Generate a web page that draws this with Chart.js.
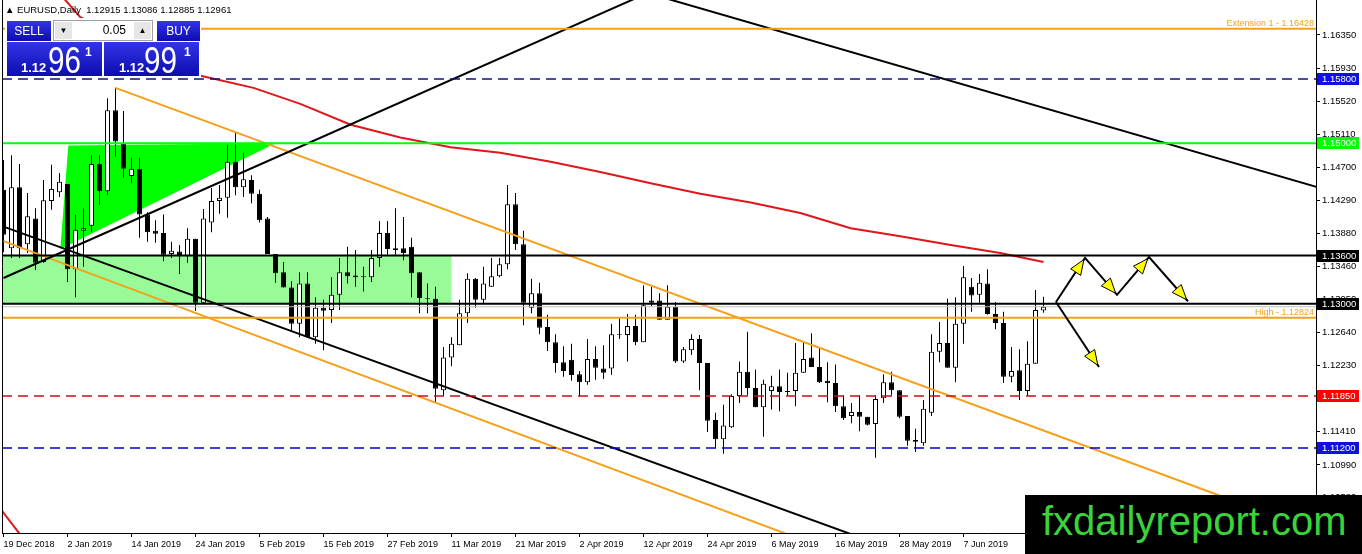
<!DOCTYPE html>
<html>
<head>
<meta charset="utf-8">
<script src="https://cdn.jsdelivr.net/npm/chart.js@4.4.1/dist/chart.umd.min.js"></script>
<style>
body { margin: 0; background: #fff; overflow: hidden; }
#wrap { position: relative; width: 1362px; height: 554px; font-family: 'Liberation Sans', Arial, sans-serif; }
canvas { position: absolute; left: 0; top: 0; }
#hdr { position: absolute; left: 5px; top: 4px; font-size: 9.5px; line-height: 12px; color: #000; white-space: pre; }
#panel { position: absolute; left: 5px; top: 18px; width: 196px; height: 59px; background: #fff; }
.blue { position: absolute; background: linear-gradient(#3434e8, #0c0cb0); color: #fff; overflow: hidden; }
.hd { top: 3px; height: 20px; font-size: 12px; line-height: 20px; text-align: center; }
.big { top: 24px; width: 95px; height: 34px; }
.big span { position: absolute; white-space: nowrap; }
.sm { font-size: 13px; font-weight: bold; line-height: 13px; top: 19px; }
.lg { font-size: 37px; line-height: 37px; top: 0px; transform: scaleX(0.8); transform-origin: left; }
.sup { font-size: 12px; font-weight: bold; line-height: 12px; top: 4px; }
#spin { position: absolute; left: 48px; top: 2px; width: 98px; height: 19px; border: 1px solid #a0a0a0; background: #fff; }
.sb { position: absolute; top: 1px; width: 17px; height: 17px; background: #e6e6e6; font-size: 8px; line-height: 17px; text-align: center; color: #000; }
#lot { position: absolute; right: 26px; top: 0; font-size: 12px; line-height: 19px; color: #000; }
#wm { position: absolute; left: 1025px; top: 495px; width: 337px; height: 59px; background: #000; }
#wm span { position: absolute; left: 17px; top: 6px; font-size: 40px; line-height: 40px; color: #3ad43a; white-space: nowrap; }
</style>
</head>
<body>
<div id="wrap">
  <canvas id="chart" width="1362" height="554"></canvas>
  <div id="hdr"></div>
  <div id="panel">
    <div class="blue hd" style="left:2px;width:44px;">SELL</div>
    <div id="spin">
      <div class="sb" style="left:1px;">&#9660;</div>
      <div id="lot">0.05</div>
      <div class="sb" style="right:1px;">&#9650;</div>
    </div>
    <div class="blue hd" style="left:152px;width:43px;">BUY</div>
    <div class="blue big" style="left:2px;"><span class="sm" style="left:14px;">1.12</span><span class="lg" style="left:41px;">96</span><span class="sup" style="left:78px;">1</span></div>
    <div class="blue big" style="left:99px;"><span class="sm" style="left:15px;">1.12</span><span class="lg" style="left:40px;">99</span><span class="sup" style="left:80px;">1</span></div>
  </div>
  <div id="wm"><span>fxdailyreport.com</span></div>
</div>
<script>
// Daily EURUSD candles, one per bar starting 19 Dec 2018
const opens = [
  1.1442,1.1369,1.1445,1.1374,1.1406,1.1352,1.1428,1.1439,1.1449,1.1343,
  1.1391,1.1397,1.1474,1.1440,1.1541,1.1500,1.1459,1.1468,1.1411,1.1391,
  1.1388,1.1362,1.1365,1.1359,1.1381,1.1301,1.1401,1.1428,1.1432,1.1477,
  1.1445,1.1454,1.1437,1.1406,1.1362,1.1339,1.1320,1.1275,1.1325,1.1258,
  1.1295,1.1292,1.1311,1.1339,1.1335,1.1334,1.1333,1.1357,1.1388,1.1369,
  1.1369,1.1371,1.1339,1.1307,1.1306,1.1192,1.1233,1.1248,1.1288,1.1331,
  1.1305,1.1321,1.1334,1.1349,1.1424,1.1374,1.1295,1.1313,1.1271,1.1252,
  1.1227,1.1230,1.1212,1.1202,1.1231,1.1219,1.1219,1.1262,1.1261,1.1272,
  1.1252,1.1304,1.1304,1.1280,1.1296,1.1228,1.1242,1.1256,1.1226,1.1155,
  1.1131,1.1146,1.1185,1.1215,1.1195,1.1171,1.1191,1.1197,1.1191,1.1191,
  1.1214,1.1233,1.1221,1.1204,1.1201,1.1172,1.1160,1.1165,1.1159,1.1150,
  1.1182,1.1202,1.1192,1.1160,1.1130,1.1126,1.1164,1.1240,1.1251,1.1220,
  1.1275,1.1321,1.1311,1.1325,1.1287,1.1276,1.1209,1.1217,1.1191,1.1225,
  1.12915
];
const highs = [
  1.1479,1.1485,1.1474,1.1438,1.1419,1.1454,1.1473,1.1463,1.1449,1.1411,
  1.1419,1.1485,1.1485,1.1556,1.1569,1.1540,1.1482,1.1482,1.1414,1.1404,
  1.1411,1.1377,1.1373,1.1394,1.1381,1.1418,1.1444,1.1448,1.1498,1.1513,
  1.1488,1.1460,1.1442,1.1408,1.1362,1.1352,1.1328,1.1339,1.1339,1.1308,
  1.1305,1.1333,1.1357,1.1371,1.1367,1.1346,1.1367,1.1403,1.1403,1.1419,
  1.1408,1.1382,1.1339,1.1325,1.1321,1.1246,1.1258,1.1305,1.1338,1.1332,
  1.1346,1.1357,1.1357,1.1448,1.1438,1.1391,1.1331,1.1326,1.1286,1.1262,
  1.1247,1.1250,1.1216,1.1256,1.1247,1.1248,1.1275,1.1282,1.1287,1.1286,
  1.1323,1.1321,1.1313,1.1323,1.1302,1.1246,1.1262,1.1261,1.1226,1.1164,
  1.1174,1.1187,1.1228,1.1265,1.1218,1.1205,1.1210,1.1218,1.1214,1.1251,
  1.1251,1.1263,1.1246,1.1227,1.1224,1.1186,1.1176,1.1186,1.1159,1.1186,
  1.1212,1.1215,1.1192,1.1160,1.1144,1.1180,1.1262,1.1277,1.1306,1.1308,
  1.1347,1.1332,1.1337,1.1343,1.1302,1.1290,1.1246,1.1243,1.1253,1.1317,
  1.13086
];
const lows = [
  1.1364,1.1357,1.1357,1.1363,1.1342,1.1351,1.1417,1.1433,1.1327,1.1308,
  1.1346,1.1389,1.1423,1.1435,1.1483,1.1457,1.1450,1.1382,1.1377,1.1376,
  1.1353,1.1357,1.1337,1.1351,1.1291,1.1301,1.1389,1.1412,1.1407,1.1435,
  1.1433,1.1425,1.1401,1.1362,1.1326,1.1320,1.1267,1.1258,1.1258,1.1250,
  1.1242,1.1276,1.1292,1.1325,1.1321,1.1315,1.1327,1.1346,1.1361,1.1361,
  1.1354,1.1308,1.1288,1.1288,1.1176,1.1185,1.1222,1.1248,1.1276,1.1295,
  1.1300,1.1321,1.1333,1.1343,1.1367,1.1273,1.1288,1.1262,1.1241,1.1214,
  1.1209,1.1204,1.1184,1.1199,1.1205,1.1206,1.1211,1.1256,1.1228,1.1248,
  1.1252,1.1297,1.1280,1.1280,1.1226,1.1226,1.1236,1.1192,1.1140,1.1120,
  1.1113,1.1145,1.1176,1.1186,1.1171,1.1134,1.1168,1.1166,1.1185,1.1172,
  1.1214,1.1221,1.1201,1.1177,1.1165,1.1155,1.1151,1.1141,1.1148,1.1108,
  1.1176,1.1186,1.1157,1.1123,1.1115,1.1123,1.1160,1.1227,1.1220,1.1202,
  1.1250,1.1290,1.1301,1.1286,1.1268,1.1201,1.1202,1.1180,1.1185,1.1225,
  1.12885
];
const closes = [
  1.1386,1.1445,1.1369,1.1409,1.1351,1.1429,1.1443,1.1452,1.1343,1.1392,
  1.1394,1.1474,1.1440,1.1541,1.1502,1.1468,1.1468,1.1411,1.1389,1.1387,
  1.1361,1.1366,1.1359,1.1381,1.1301,1.1406,1.1428,1.1432,1.1477,1.1445,
  1.1455,1.1437,1.1404,1.1362,1.1338,1.1320,1.1275,1.1325,1.1258,1.1295,
  1.1291,1.1311,1.1339,1.1334,1.1333,1.1333,1.1357,1.1388,1.1368,1.1367,
  1.1363,1.1338,1.1307,1.1306,1.1194,1.1233,1.1250,1.1288,1.1331,1.1305,
  1.1325,1.1334,1.1349,1.1424,1.1374,1.1301,1.1313,1.1270,1.1252,1.1226,
  1.1216,1.1211,1.1202,1.1231,1.1220,1.1214,1.1262,1.1261,1.1272,1.1252,
  1.1298,1.1301,1.1280,1.1296,1.1228,1.1243,1.1256,1.1226,1.1154,1.1131,
  1.1148,1.1185,1.1215,1.1195,1.1171,1.1200,1.1197,1.1190,1.1190,1.1214,
  1.1231,1.1221,1.1202,1.1201,1.1172,1.1157,1.1165,1.1159,1.1149,1.1181,
  1.1202,1.1192,1.1159,1.1129,1.1128,1.1169,1.1240,1.1251,1.1220,1.1275,
  1.1333,1.1310,1.1326,1.1287,1.1276,1.1209,1.1216,1.1191,1.1225,1.1292,
  1.12961
];

// date labels, one every 8 bars
const tickDates = ['19 Dec 2018', '2 Jan 2019', '14 Jan 2019', '24 Jan 2019', '5 Feb 2019', '15 Feb 2019',
  '27 Feb 2019', '11 Mar 2019', '21 Mar 2019', '2 Apr 2019', '12 Apr 2019', '24 Apr 2019',
  '6 May 2019', '16 May 2019', '28 May 2019', '7 Jun 2019'];
const yTicks = [1.16350, 1.15930, 1.15520, 1.15110, 1.14700, 1.14290, 1.13880, 1.13460,
  1.13050, 1.12640, 1.12230, 1.11820, 1.11410, 1.10990, 1.10580];

// horizontal levels
const levelPrices = [1.16428, 1.15800, 1.15000, 1.13600, 1.13000, 1.12961, 1.12824, 1.11850, 1.11200];
const levelColors = ['#f5a01a', '#101080', '#00ff00', '#000000', '#000000', '#c0c0c0', '#f5a01a', '#c81010', '#0000c0'];
const levelWidths = [2, 1.5, 2, 2, 2, 1, 2, 1.5, 1.5];
const levelDashes = [[], [10, 6], [], [], [], [], [], [10, 6], [10, 6]];
const boxPrices = [1.15800, 1.15000, 1.13600, 1.13000, 1.11850, 1.11200];
const boxColors = ['#1010e0', '#00ff00', '#000000', '#000000', '#ff0000', '#1010e0'];
const noteTexts = ['Extension 1 - 1.16428', 'High - 1.12824'];
const notePrices = [1.16428, 1.12824];

// trendlines as [bar, price] end points
const trendStarts = [[0, 1.1332], [0, 1.1396], [83, 1.1680], [14, 1.1569], [0, 1.1378]];
const trendEnds = [[80, 1.1685], [110, 1.0998], [165, 1.1443], [165, 1.1013], [100, 1.1005]];
const trendColors = ['#000000', '#000000', '#000000', '#f5a01a', '#f5a01a'];

// red moving average
const maBars = [7.5, 9.6, 24.25, 31.25, 37.1, 43.4, 49.6, 55.9, 62.1, 68.4, 74.6, 80.9, 87.1, 93.4, 99.6, 105.9, 112.1, 118.4, 124.6, 130];
const maValues = [1.1681, 1.1657, 1.1585, 1.1569, 1.1549, 1.1523, 1.1507, 1.1495, 1.1488, 1.1477,
  1.1464, 1.1450, 1.1437, 1.1426, 1.1413, 1.1394, 1.1384, 1.1373, 1.1363, 1.1352];
const maLowBars = [-0.3, 2.1];
const maLowValues = [1.1043, 1.1012];

// zones
const zoneBars = [-0.3, 56];
const zonePrices = [1.1360, 1.1300];
const triBars = [8.1, 34, 7.1];
const triPrices = [1.1497, 1.1500, 1.1368];

// projection arrows [bar, price]
const arrowPaths = [
  [[131.56, 1.1302], [135.19, 1.1357], [139.19, 1.1311], [143.19, 1.1358], [148.06, 1.1303]],
  [[131.56, 1.1302], [136.94, 1.1221]]
];

const xMin = -0.1875, xMax = 164.0625;
const yMin = 1.10141, yMax = 1.16785;
const n = closes.length;

document.getElementById('hdr').textContent = '\u25B2 EURUSD,Daily  ' +
  [opens[n - 1], highs[n - 1], lows[n - 1], closes[n - 1]].map(v => v.toFixed(5)).join(' ');

const lineBase = { type: 'line', pointRadius: 0, tension: 0, fill: false, clip: 0, order: 0 };
const datasets = [];

// wicks then bodies
datasets.push({
    type: 'bar',
    data: highs.map((h, i) => ({ x: i, y: [lows[i], h] })),
    backgroundColor: '#000',
    borderWidth: 0,
    barThickness: 1,
    inflateAmount: 0,
    grouped: false,
    order: 3
});
datasets.push({
    type: 'bar',
    data: opens.map((o, i) => ({ x: i, y: [o, closes[i]] })),
    backgroundColor: opens.map((o, i) => closes[i] > o ? '#ffffff' : '#000000'),
    borderColor: '#000',
    borderWidth: 1,
    borderSkipped: false,
    barThickness: 5,
    inflateAmount: 0,
    grouped: false,
    order: 2
});

levelPrices.forEach((p, i) => {
    datasets.push(Object.assign({}, lineBase, {
        data: [{ x: xMin, y: p }, { x: xMax, y: p }],
        borderColor: levelColors[i],
        borderWidth: levelWidths[i],
        borderDash: levelDashes[i]
    }));
});

trendStarts.forEach((s, i) => {
    datasets.push(Object.assign({}, lineBase, {
        data: [{ x: s[0], y: s[1] }, { x: trendEnds[i][0], y: trendEnds[i][1] }],
        borderColor: trendColors[i],
        borderWidth: 2
    }));
});

datasets.push(Object.assign({}, lineBase, {
    data: maBars.map((b, i) => ({ x: b, y: maValues[i] })),
    borderColor: '#e0161a',
    borderWidth: 2
}));
datasets.push(Object.assign({}, lineBase, {
    data: maLowBars.map((b, i) => ({ x: b, y: maLowValues[i] })),
    borderColor: '#e0161a',
    borderWidth: 2
}));

function arrowHead(ctx, x0, y0, x1, y1) {
    const a = Math.atan2(y1 - y0, x1 - x0);
    const c = Math.cos(a), s = Math.sin(a);
    const tx = x1 - c * 2, ty = y1 - s * 2;
    const len = 15, w = 6;
    ctx.beginPath();
    ctx.moveTo(tx, ty);
    ctx.lineTo(tx - c * len + s * w, ty - s * len - c * w);
    ctx.lineTo(tx - c * len - s * w, ty - s * len + c * w);
    ctx.closePath();
    ctx.fillStyle = '#ffff00';
    ctx.fill();
    ctx.lineWidth = 1;
    ctx.strokeStyle = '#000';
    ctx.stroke();
}

const overlay = {
    id: 'overlay',
    beforeDatasetsDraw(chart) {
        const { ctx, chartArea: a, scales: { x, y } } = chart;
        ctx.save();
        ctx.beginPath();
        ctx.rect(a.left, a.top, a.right - a.left, a.bottom - a.top);
        ctx.clip();
        const zx0 = x.getPixelForValue(zoneBars[0]), zx1 = x.getPixelForValue(zoneBars[1]);
        const zy0 = y.getPixelForValue(zonePrices[0]), zy1 = y.getPixelForValue(zonePrices[1]);
        ctx.fillStyle = '#98fb98';
        ctx.fillRect(zx0, zy0, zx1 - zx0, zy1 - zy0);
        ctx.fillStyle = '#00ff00';
        ctx.beginPath();
        triBars.forEach((b, i) => {
            const px = x.getPixelForValue(b), py = y.getPixelForValue(triPrices[i]);
            if (i) ctx.lineTo(px, py); else ctx.moveTo(px, py);
        });
        ctx.closePath();
        ctx.fill();
        ctx.restore();
    },
    afterDatasetsDraw(chart) {
        const { ctx, chartArea: a, scales: { x, y } } = chart;
        ctx.save();
        // level notes
        ctx.font = '9px "Liberation Sans"';
        ctx.fillStyle = '#f5a01a';
        ctx.textAlign = 'right';
        ctx.textBaseline = 'bottom';
        noteTexts.forEach((t, i) => ctx.fillText(t, a.right - 2, y.getPixelForValue(notePrices[i]) - 1));
        // arrows
        arrowPaths.forEach(path => {
            const pts = path.map(p => [x.getPixelForValue(p[0]), y.getPixelForValue(p[1])]);
            ctx.strokeStyle = '#000';
            ctx.lineWidth = 2;
            ctx.beginPath();
            pts.forEach((p, i) => i ? ctx.lineTo(p[0], p[1]) : ctx.moveTo(p[0], p[1]));
            ctx.stroke();
            for (let i = 1; i < pts.length; i++) {
                arrowHead(ctx, pts[i - 1][0], pts[i - 1][1], pts[i][0], pts[i][1]);
            }
        });
        // left border
        ctx.strokeStyle = '#000';
        ctx.lineWidth = 1;
        ctx.beginPath();
        ctx.moveTo(a.left + 0.5, a.top);
        ctx.lineTo(a.left + 0.5, a.bottom);
        ctx.stroke();
        ctx.restore();
    },
    afterDraw(chart) {
        const { ctx, scales: { y } } = chart;
        ctx.save();
        ctx.font = '9.5px "Liberation Sans"';
        ctx.textAlign = 'left';
        ctx.textBaseline = 'middle';
        boxPrices.forEach((p, i) => {
            const py = Math.round(y.getPixelForValue(p));
            ctx.fillStyle = boxColors[i];
            ctx.fillRect(y.left + 1, py - 6, 42, 12);
            ctx.fillStyle = '#fff';
            ctx.fillText(p.toFixed(5), y.left + 6, py + 0.5);
        });
        ctx.restore();
    }
};

new Chart(document.getElementById('chart'), {
    type: 'bar',
    data: { datasets: datasets },
    plugins: [overlay],
    options: {
        responsive: false,
        animation: false,
        events: [],
        layout: { padding: { left: 2, top: 0, right: 0, bottom: 0 } },
        plugins: { legend: { display: false }, tooltip: { enabled: false } },
        scales: {
            x: {
                type: 'linear',
                min: xMin,
                max: xMax,
                bounds: 'data',
                offset: false,
                afterBuildTicks: s => { s.ticks = tickDates.map((d, i) => ({ value: i * 8 })); },
                afterFit: s => { s.height = 21; s.paddingLeft = 0; s.paddingRight = 0; },
                ticks: {
                    align: 'start',
                    autoSkip: false,
                    maxRotation: 0,
                    padding: 2,
                    color: '#000',
                    font: { family: 'Liberation Sans', size: 9 },
                    callback: (v, i) => tickDates[i]
                },
                grid: { drawOnChartArea: false, offset: false, tickLength: 4, color: '#000' },
                border: { color: '#000', width: 1 }
            },
            y: {
                type: 'linear',
                position: 'right',
                min: yMin,
                max: yMax,
                bounds: 'data',
                beginAtZero: false,
                afterBuildTicks: s => { s.ticks = yTicks.map(v => ({ value: v })); },
                afterFit: s => { s.width = 46; s.paddingTop = 0; s.paddingBottom = 0; },
                ticks: {
                    padding: 2,
                    color: '#000',
                    font: { family: 'Liberation Sans', size: 9.5 },
                    callback: v => v.toFixed(5)
                },
                grid: { drawOnChartArea: false, tickLength: 4, color: '#000' },
                border: { color: '#000', width: 1 }
            }
        }
    }
});
</script>
</body>
</html>
